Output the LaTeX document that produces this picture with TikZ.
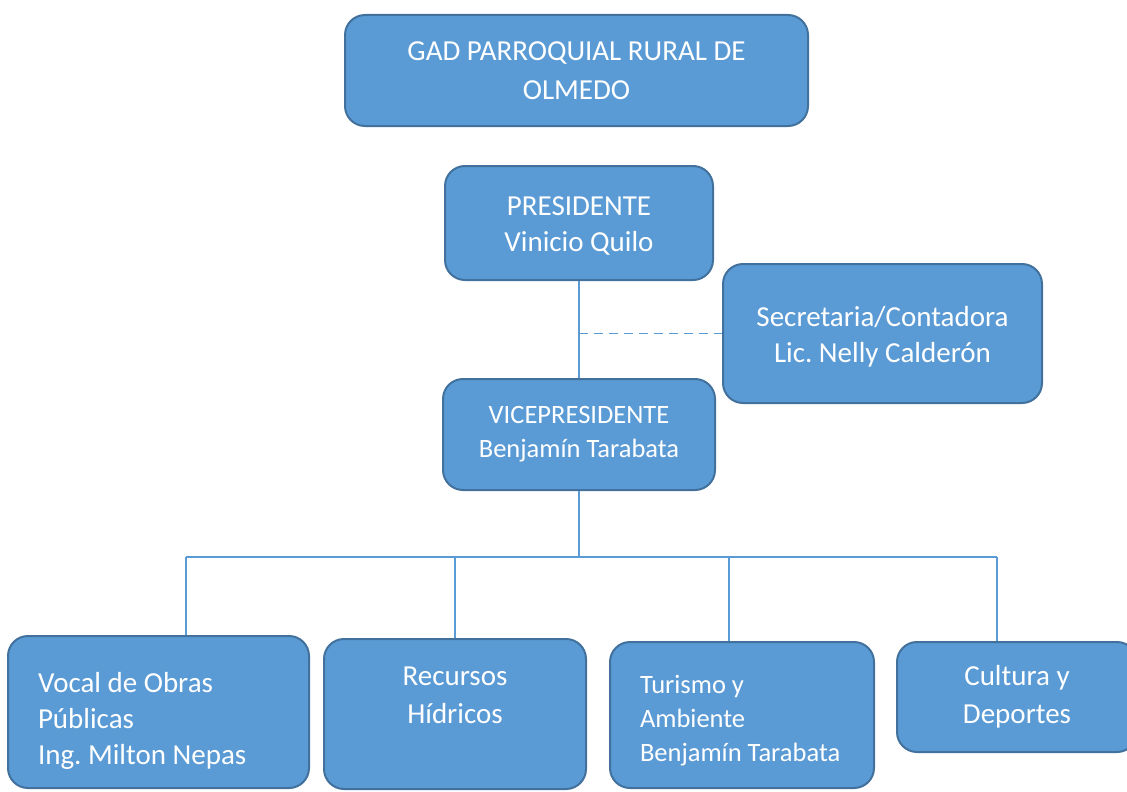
\documentclass[tikz,border=0pt]{standalone}
\usepackage{fontspec}
\setmainfont{Carlito}
\frenchspacing
\definecolor{boxfill}{HTML}{5B9BD5}
\definecolor{boxline}{HTML}{41719C}
\tikzset{link/.style={draw=boxfill,line width=1.2pt}}

\begin{document}
\begin{tikzpicture}[x=1pt,y=-1pt]
		\useasboundingbox (0,0) rectangle (1127,792);
		\begin{scope}[every node/.style={rectangle,rounded corners=20pt,draw=boxline,line width=2pt,fill=boxfill,text=white,align=center,font=\fontsize{29}{36}\selectfont}]
			\node[minimum width=463pt,minimum height=111pt,font=\fontsize{29}{39}\selectfont] (gad) at (576.5,70.5) {GAD PARROQUIAL RURAL DE\\OLMEDO};
			\node[minimum width=268pt,minimum height=114pt] (pres) at (579,223) {\rule{0pt}{25pt}PRESIDENTE\\Vinicio Quilo};
			\node[minimum width=319pt,minimum height=139pt] (secr) at (882.5,333.5) {\rule{0pt}{27pt}Secretaria/Contadora\\Lic. Nelly Calderón};
			\node[minimum width=272pt,minimum height=111pt,font=\fontsize{26.5}{34}\selectfont] (vice) at (579,434.5) {VICEPRESIDENTE\\Benjamín Tarabata};
			\node[minimum height=152pt,inner xsep=30pt,text width=241pt,align=flush left] (vocal) at (158.5,712) {\rule{0pt}{38pt}Vocal de Obras\\Públicas\\Ing. Milton Nepas};
			\node[minimum width=262pt,minimum height=150pt,font=\fontsize{29}{38}\selectfont] (recur) at (455,714) {Recursos\\Hídricos\\\mbox{}};
			\node[minimum height=146pt,inner xsep=30pt,text width=204pt,align=flush left,font=\fontsize{26.5}{34}\selectfont] (turis) at (742,715) {\rule{0pt}{29pt}Turismo y\\Ambiente\\Benjamín Tarabata};
			\node[minimum width=240pt,minimum height=110pt,font=\fontsize{29}{38}\selectfont] (cult) at (1017,697) {Cultura y\\Deportes};
		\end{scope}
		\coordinate (bus) at (579,557);
		\coordinate (d1) at (186,557);
		\coordinate (d2) at (455,557);
		\coordinate (d3) at (729,557);
		\coordinate (d4) at (997,557);
		\draw[link] (pres.south) -- (vice.north);
		\draw[link,line width=1.6pt,dash pattern=on 9pt off 6pt] (pres.south |- secr.west) -- (secr.west);
		\draw[link] (vice.south) -- (bus);
		\draw[link] (d1) -- (d4);
		\draw[link] (d1) -- (d1 |- vocal.north);
		\draw[link] (d2) -- (recur.north);
		\draw[link] (d3) -- (d3 |- turis.north);
		\draw[link] (d4) -- (d4 |- cult.north);
	\end{tikzpicture}
\end{document}
